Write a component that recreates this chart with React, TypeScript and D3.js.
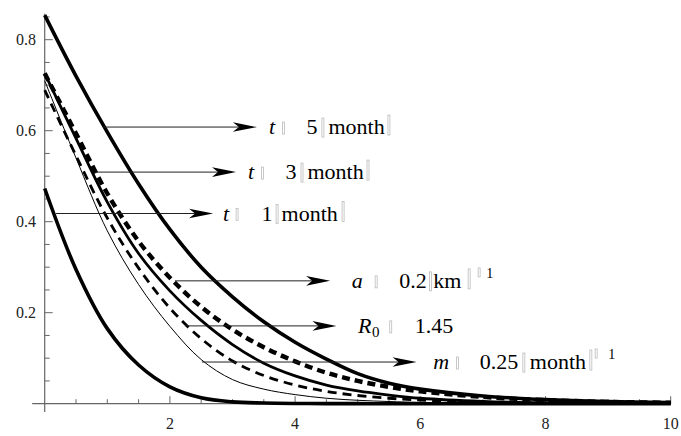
import React from 'react';
import * as d3 from 'd3';

// ---- data ----
const xs = [0, 0.5, 1, 1.5, 2, 2.5, 3, 3.5, 4, 4.5, 5, 5.5, 6, 7, 8, 9, 10];
const serT5 = [0.854, 0.72, 0.597, 0.483, 0.383, 0.3, 0.235, 0.18, 0.135, 0.098, 0.066, 0.045, 0.032, 0.017, 0.009, 0.0048, 0.0025];
const serA02 = [0.726, 0.594, 0.462, 0.357, 0.277, 0.213, 0.163, 0.124, 0.093, 0.068, 0.05, 0.037, 0.027, 0.015, 0.008, 0.004, 0.002];
const serT3 = [0.726, 0.583, 0.443, 0.33, 0.248, 0.183, 0.13, 0.089, 0.061, 0.041, 0.028, 0.019, 0.012, 0.005, 0.002, 0.001, 0.0005];
const serR0 = [0.689, 0.545, 0.408, 0.298, 0.21, 0.143, 0.094, 0.062, 0.041, 0.027, 0.018, 0.012, 0.008, 0.0035, 0.0015, 0.0007, 0.0003];
const serM = [0.71, 0.54, 0.38, 0.262, 0.17, 0.097, 0.053, 0.032, 0.02, 0.012, 0.0075, 0.0048, 0.003, 0.0012, 0.0005, 0.0002, 0.0001];
const serT1 = [0.473, 0.295, 0.165, 0.085, 0.037, 0.013, 0.004, 0.0015, 0.0005, 0.0002, 0.0001, 0, 0, 0, 0, 0, 0];

const xMajorTicks = [2, 4, 6, 8, 10];
const xTickLabels = ['2', '4', '6', '8', '10'];
const yMajorTicks = [0.2, 0.4, 0.6, 0.8];
const yTickLabels = ['0.2', '0.4', '0.6', '0.8'];

// annotation arrows (data units)
const annY = [0.608, 0.509, 0.418, 0.27, 0.171, 0.0916];
const annStartX = [0.936, 0.8, 0.18, 2.08, 2.24, 2.51];
const annTipX = [3.39, 3.056, 2.69, 4.56, 4.66, 5.94];

type Part =
  | { kind: 'text'; s: string; dx: number; italic?: boolean; size?: number; dy?: number }
  | { kind: 'box'; dx: number; top: number; bottom: number };

const labelParts: Part[][] = [
  [
    { kind: 'text', s: 't', dx: 12, italic: true },
    { kind: 'box', dx: 25.5, top: -12, bottom: 0 },
    { kind: 'text', s: '5', dx: 49.5 },
    { kind: 'box', dx: 65, top: -16, bottom: 3 },
    { kind: 'text', s: 'month', dx: 71.5 },
    { kind: 'box', dx: 131, top: -19, bottom: 1 },
  ],
  [
    { kind: 'text', s: 't', dx: 12, italic: true },
    { kind: 'box', dx: 25.5, top: -12, bottom: 0 },
    { kind: 'text', s: '3', dx: 49.5 },
    { kind: 'box', dx: 65, top: -16, bottom: 3 },
    { kind: 'text', s: 'month', dx: 71.5 },
    { kind: 'box', dx: 131, top: -19, bottom: 1 },
  ],
  [
    { kind: 'text', s: 't', dx: 10, italic: true },
    { kind: 'box', dx: 23, top: -12, bottom: 0 },
    { kind: 'text', s: '1', dx: 48.5 },
    { kind: 'box', dx: 63, top: -16, bottom: 3 },
    { kind: 'text', s: 'month', dx: 68.5 },
    { kind: 'box', dx: 129, top: -19, bottom: 1 },
  ],
  [
    { kind: 'text', s: 'a', dx: 21.7, italic: true },
    { kind: 'box', dx: 45, top: -12, bottom: 0 },
    { kind: 'text', s: '0.2', dx: 69 },
    { kind: 'box', dx: 99.3, top: -16, bottom: 3 },
    { kind: 'text', s: 'km', dx: 103 },
    { kind: 'box', dx: 138, top: -19, bottom: 1 },
    { kind: 'box', dx: 148, top: -20, bottom: -11 },
    { kind: 'text', s: '1', dx: 156, size: 14, dy: -10 },
  ],
  [
    { kind: 'text', s: 'R', dx: 21.7, italic: true },
    { kind: 'text', s: '0', dx: 35.5, size: 15, dy: 4 },
    { kind: 'box', dx: 53.3, top: -12, bottom: 0 },
    { kind: 'text', s: '1.45', dx: 78.3 },
  ],
  [
    { kind: 'text', s: 'm', dx: 16.6, italic: true },
    { kind: 'box', dx: 40, top: -12, bottom: 0 },
    { kind: 'text', s: '0.25', dx: 63.3 },
    { kind: 'box', dx: 106.3, top: -16, bottom: 3 },
    { kind: 'text', s: 'month', dx: 113.3 },
    { kind: 'box', dx: 173.3, top: -19, bottom: 1 },
    { kind: 'box', dx: 178.6, top: -20, bottom: -11 },
    { kind: 'text', s: '1', dx: 191.6, size: 14, dy: -10 },
  ],
];

const FONT = '"Liberation Serif", "Times New Roman", Times, "DejaVu Serif", serif';

export default function App() {
  const W = 681;
  const H = 436;
  const x = d3.scaleLinear().domain([0, 10]).range([44.7, 670.7]);
  const y = d3.scaleLinear().domain([0, 0.8]).range([403.7, 39.7]);

  const line = (vals: number[]) =>
    d3
      .line<number>()
      .x((_, i) => x(xs[i]))
      .y((d) => y(d))
      .curve(d3.curveCatmullRom.alpha(0.5))(vals) as string;

  const xMinor = d3.range(0.5, 10.001, 0.5).filter((v) => !xMajorTicks.some((m) => Math.abs(m - v) < 1e-6));
  const yMinor = d3.range(0.05, 0.86, 0.05).filter((v) => !yMajorTicks.some((m) => Math.abs(m - v) < 1e-6));

  const axisColor = '#666';
  const y0 = y(0);
  const x0 = x(0);

  const arrowHead = (tx: number, ty: number) => {
    const L = 24;
    const h = 4.8;
    return `M${tx},${ty} L${tx - L},${ty - h} L${tx - L + 6},${ty} L${tx - L},${ty + h} Z`;
  };

  return (
    <svg
      width={W}
      height={H}
      viewBox={`0 0 ${W} ${H}`}
      style={{ position: 'absolute', left: 0, top: 0, background: '#fff', fontFamily: FONT }}
    >
      <rect x={0} y={0} width={W} height={H} fill="#fff" />
      {/* axes */}
      <line x1={x(-0.2)} x2={x(10)} y1={y0} y2={y0} stroke={axisColor} strokeWidth={1.2} />
      <line x1={x0} x2={x0} y1={y(-0.018)} y2={y(0.857)} stroke={axisColor} strokeWidth={1.2} />
      {xMinor.map((v) => (
        <line key={'xm' + v} x1={x(v)} x2={x(v)} y1={y0} y2={y0 - 4.5} stroke={axisColor} strokeWidth={1} />
      ))}
      {xMajorTicks.map((v) => (
        <line key={'xM' + v} x1={x(v)} x2={x(v)} y1={y0} y2={y0 - 7.5} stroke={axisColor} strokeWidth={1} />
      ))}
      {yMinor.map((v) => (
        <line key={'ym' + v} x1={x0} x2={x0 + 5} y1={y(v)} y2={y(v)} stroke={axisColor} strokeWidth={1} />
      ))}
      {yMajorTicks.map((v) => (
        <line key={'yM' + v} x1={x0} x2={x0 + 8} y1={y(v)} y2={y(v)} stroke={axisColor} strokeWidth={1} />
      ))}
      {xMajorTicks.map((v, i) => (
        <text key={'xl' + v} x={x(v)} y={429} textAnchor="middle" style={{ fontFamily: FONT }} fontSize={16} fill="#222">
          {xTickLabels[i]}
        </text>
      ))}
      {yMajorTicks.map((v, i) => (
        <text key={'yl' + v} x={36} y={y(v) + 5.5} textAnchor="end" style={{ fontFamily: FONT }} fontSize={16} fill="#222">
          {yTickLabels[i]}
        </text>
      ))}

      {/* curves */}
      <g fill="none" stroke="#000" strokeLinejoin="round">
        <path d={line(serT1)} strokeWidth={3.6} />
        <path d={line(serM)} strokeWidth={1} />
        <path d={line(serR0)} strokeWidth={2.8} strokeDasharray="9,6" />
        <path d={line(serT3)} strokeWidth={2.8} />
        <path d={line(serA02)} strokeWidth={4.4} strokeDasharray="8,5" />
        <path d={line(serT5)} strokeWidth={3.6} />
      </g>

      {/* annotations */}
      {annY.map((v, i) => {
        const sx = x(annStartX[i]);
        const tx = x(annTipX[i]);
        const ty = y(v);
        const base = ty + 7;
        return (
          <g key={'ann' + i}>
            <line x1={sx} x2={tx - 18} y1={ty} y2={ty} stroke="#222" strokeWidth={1} />
            <path d={arrowHead(tx, ty)} fill="#000" />
            {labelParts[i].map((p, j) =>
              p.kind === 'text' ? (
                <text
                  key={j}
                  x={tx + p.dx}
                  y={base + (p.dy || 0)}
                  style={{ fontFamily: FONT }}
                  fontSize={p.size || 22}
                  fontStyle={p.italic ? 'italic' : 'normal'}
                  fill="#000"
                >
                  {p.s}
                </text>
              ) : (
                <rect
                  key={j}
                  x={tx + p.dx}
                  y={base + p.top}
                  width={2}
                  height={p.bottom - p.top}
                  fill="none"
                  stroke="#bbb"
                  strokeWidth={0.8}
                />
              )
            )}
          </g>
        );
      })}
    </svg>
  );
}
